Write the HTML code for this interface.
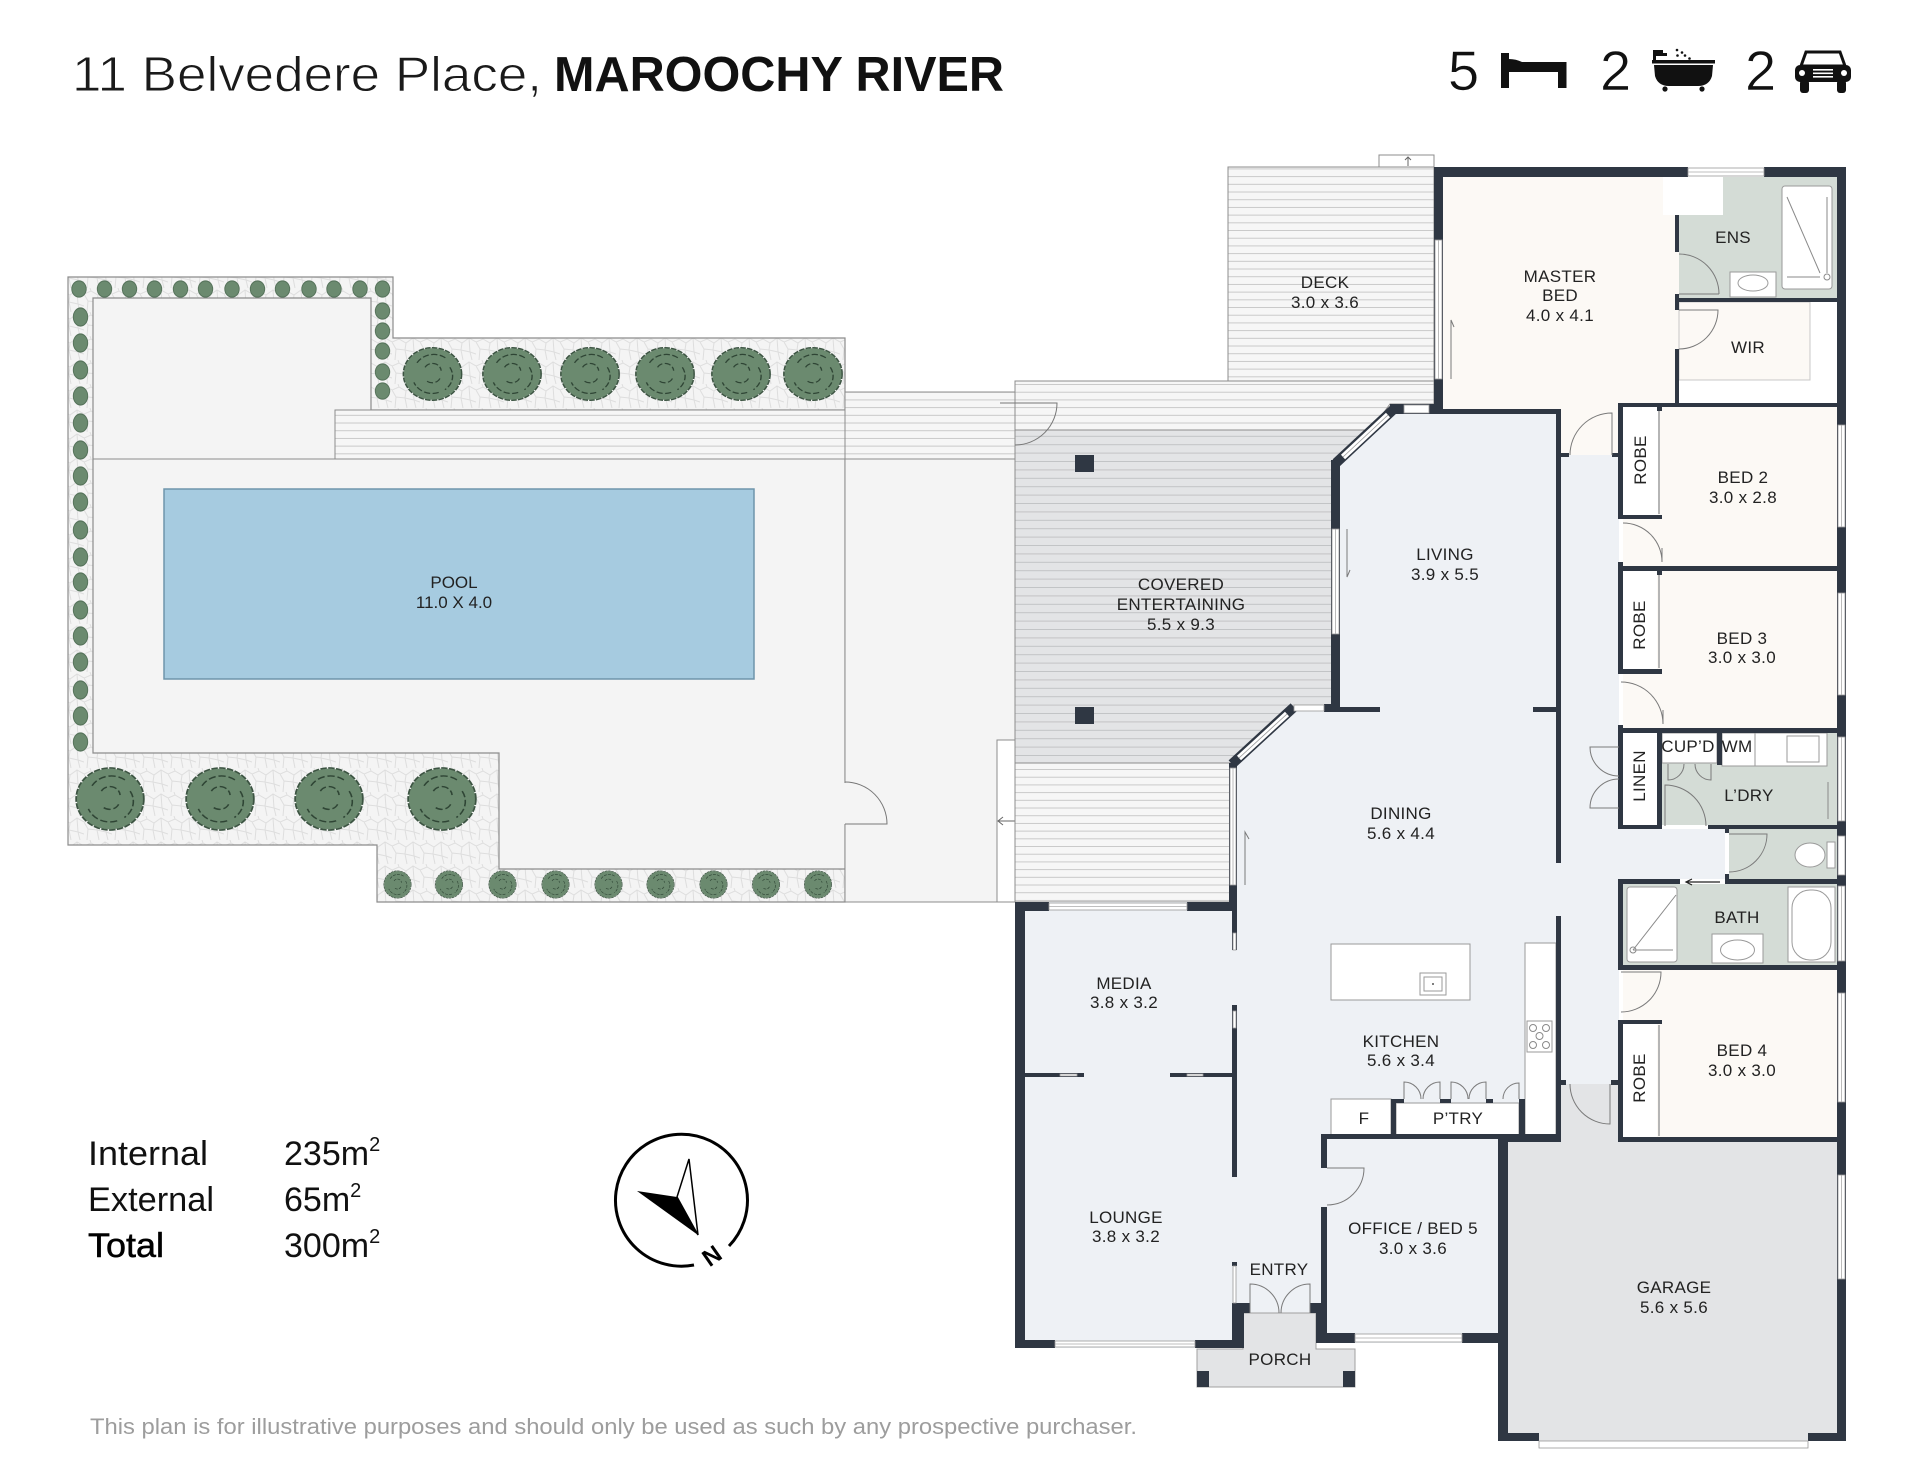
<!DOCTYPE html>
<html><head><meta charset="utf-8"><style>html,body{margin:0;padding:0;background:#fff}svg{display:block}</style></head><body>
<svg width="1920" height="1480" viewBox="0 0 1920 1480" xmlns="http://www.w3.org/2000/svg" xmlns:xlink="http://www.w3.org/1999/xlink" font-family="Liberation Sans, Arial, sans-serif">
<defs>
<pattern id="deck" width="40" height="7.7" patternUnits="userSpaceOnUse"><rect width="40" height="7.7" fill="#f6f6f6"/><line x1="0" y1="7.2" x2="40" y2="7.2" stroke="#c8c8c8" stroke-width="1"/></pattern>
<pattern id="cov" width="40" height="8.4" patternUnits="userSpaceOnUse"><rect width="40" height="8.4" fill="#e3e4e6"/><line x1="0" y1="7.9" x2="40" y2="7.9" stroke="#c2c3c5" stroke-width="1"/></pattern>
<pattern id="stone" width="28" height="24" patternUnits="userSpaceOnUse"><rect width="28" height="24" fill="#f4f4f4"/><path d="M0,6 L7,3 L14,7 L21,2 L28,6 M7,3 L6,0 M14,7 L13,14 L4,13 L0,6 M13,14 L22,16 L21,2 M22,16 L28,18 M4,13 L3,24 M13,14 L15,24 M22,16 L24,24" stroke="#dedede" stroke-width="1" fill="none"/></pattern>
<symbol id="bs" viewBox="-50 -50 100 100" preserveAspectRatio="none" overflow="visible">
<circle r="46" fill="#6b8a6f"/>
<circle r="47" fill="none" stroke="#3c5442" stroke-width="2.5" stroke-dasharray="9 2"/>
<path d="M-25,-20 A32,32 0 0 1 22,-28 M28,-12 A30,30 0 0 1 20,28 M10,33 A32,32 0 0 1 -30,15 M-12,-12 A14,14 0 0 1 14,-6 M12,8 A14,14 0 0 1 -10,12" fill="none" stroke="#2f4535" stroke-width="2.2" stroke-dasharray="10 4"/>
</symbol>
<symbol id="ss" viewBox="-50 -50 100 100" preserveAspectRatio="none"><ellipse rx="45" ry="45" fill="#6b8a6f" stroke="#56735b" stroke-width="6"/></symbol>
</defs>

<!-- HEADER -->
<text x="72" y="91" font-size="49" fill="#1a1a1a" stroke="#fff" stroke-width="0.9" textLength="470" lengthAdjust="spacingAndGlyphs">11 Belvedere Place,</text>
<text x="554" y="91" font-size="49" font-weight="bold" fill="#111" textLength="450" lengthAdjust="spacingAndGlyphs">MAROOCHY RIVER</text>
<text x="1448" y="90" font-size="56" fill="#111" stroke="#fff" stroke-width="0.6">5</text>
<text x="1600" y="90" font-size="56" fill="#111" stroke="#fff" stroke-width="0.6">2</text>
<text x="1745" y="90" font-size="56" fill="#111" stroke="#fff" stroke-width="0.6">2</text>
<!-- bed icon -->
<g fill="#111">
<rect x="1501" y="53" width="8" height="35"/>
<path d="M1509,59 Q1516,59 1522,62 L1566,62 L1566,72 L1509,72 Z"/>
<rect x="1558" y="62" width="8.5" height="26"/>
</g>
<!-- bath icon -->
<g fill="#111">
<path d="M1653,60 L1653,50 L1663,50 L1663,53 L1667,53 L1667,56 L1656,56 L1656,60 Z"/>
<rect x="1652" y="60" width="63" height="3.5"/>
<path d="M1654,65 L1713,65 L1712,76 Q1709,86 1698,86 L1669,86 Q1658,86 1655,76 Z"/>
<circle cx="1665" cy="89" r="2.6"/><circle cx="1702" cy="89" r="2.6"/>
<circle cx="1677" cy="50" r="1.3"/><circle cx="1682" cy="52.5" r="1.3"/><circle cx="1677.5" cy="55.5" r="1.3"/><circle cx="1685" cy="55.5" r="1.3"/><circle cx="1689.5" cy="58.5" r="1.3"/>
</g>
<!-- car icon -->
<g fill="#111">
<path d="M1806,52 L1840,52 L1845,66 L1801,66 Z" fill="none" stroke="#111" stroke-width="3"/>
<rect x="1795" y="65" width="56" height="17" rx="5"/>
<rect x="1800" y="80" width="9" height="13" rx="3"/>
<rect x="1837" y="80" width="9" height="13" rx="3"/>
<circle cx="1802" cy="73" r="3" fill="#fff"/><circle cx="1844" cy="73" r="3" fill="#fff"/>
<rect x="1813" y="69" width="20" height="1.6" fill="#fff"/><rect x="1813" y="72.5" width="20" height="1.6" fill="#fff"/><rect x="1813" y="76" width="20" height="1.6" fill="#fff"/>
</g>

<!-- GARDEN -->
<polygon points="68,277 393,277 393,338 845,338 845,902 377,902 377,845 68,845" fill="url(#stone)" stroke="#8c8c8c" stroke-width="1.2"/>
<polygon points="93,298 371,298 371,410 845,410 845,869 499,869 499,753 93,753" fill="#f4f4f4" stroke="#8c8c8c" stroke-width="1.2"/>
<rect x="335" y="410" width="510" height="49" fill="url(#deck)" stroke="#8c8c8c"/>
<line x1="93" y1="459" x2="335" y2="459" stroke="#8c8c8c"/>
<rect x="164" y="489" width="590" height="190" fill="#a6cbe0" stroke="#6f95ab" stroke-width="1.5"/>
<text x="454" y="588" font-size="17" text-anchor="middle" fill="#222">POOL</text>
<text x="454" y="608" font-size="17" text-anchor="middle" fill="#222">11.0 X 4.0</text>
<rect x="845" y="459" width="170" height="443" fill="#f4f4f4" stroke="#8c8c8c"/>
<rect x="845" y="392" width="170" height="67" fill="url(#deck)" stroke="#8c8c8c"/>
<rect x="997" y="740" width="18" height="162" fill="#fff" stroke="#8c8c8c"/>
<rect x="844" y="783" width="3" height="41" fill="#f4f4f4"/>
<path d="M845,824 L887,824 A42,42 0 0 0 845,782" fill="none" stroke="#777"/>
<path d="M1026,821 L998,821 M1003,817 L998,821 L1003,825" fill="none" stroke="#666"/>

<!-- shrubs -->
<g>
<use href="#bs" xlink:href="#bs" x="401.5" y="346" width="62" height="56"/>
<use href="#bs" xlink:href="#bs" x="481" y="346" width="62" height="56"/>
<use href="#bs" xlink:href="#bs" x="559" y="346" width="62" height="56"/>
<use href="#bs" xlink:href="#bs" x="634" y="346" width="62" height="56"/>
<use href="#bs" xlink:href="#bs" x="710" y="346" width="62" height="56"/>
<use href="#bs" xlink:href="#bs" x="782" y="346" width="62" height="56"/>
<use href="#bs" xlink:href="#bs" x="74" y="766" width="72" height="66"/>
<use href="#bs" xlink:href="#bs" x="184" y="766" width="72" height="66"/>
<use href="#bs" xlink:href="#bs" x="293" y="766" width="72" height="66"/>
<use href="#bs" xlink:href="#bs" x="406" y="766" width="72" height="66"/>
</g>
<g>
<use href="#bs" xlink:href="#bs" x="383" y="870" width="29" height="29"/>
<use href="#bs" xlink:href="#bs" x="434.5" y="870" width="29" height="29"/>
<use href="#bs" xlink:href="#bs" x="488" y="870" width="29" height="29"/>
<use href="#bs" xlink:href="#bs" x="541" y="870" width="29" height="29"/>
<use href="#bs" xlink:href="#bs" x="594" y="870" width="29" height="29"/>
<use href="#bs" xlink:href="#bs" x="646" y="870" width="29" height="29"/>
<use href="#bs" xlink:href="#bs" x="699" y="870" width="29" height="29"/>
<use href="#bs" xlink:href="#bs" x="751.5" y="870" width="29" height="29"/>
<use href="#bs" xlink:href="#bs" x="803.5" y="870" width="29" height="29"/>
</g>
<g>
<use href="#ss" xlink:href="#ss" x="71" y="280" width="16" height="18"/>
<use href="#ss" xlink:href="#ss" x="96.5" y="280" width="16" height="18"/>
<use href="#ss" xlink:href="#ss" x="121.5" y="280" width="16" height="18"/>
<use href="#ss" xlink:href="#ss" x="146.5" y="280" width="16" height="18"/>
<use href="#ss" xlink:href="#ss" x="172.5" y="280" width="16" height="18"/>
<use href="#ss" xlink:href="#ss" x="197.5" y="280" width="16" height="18"/>
<use href="#ss" xlink:href="#ss" x="224" y="280" width="16" height="18"/>
<use href="#ss" xlink:href="#ss" x="249.5" y="280" width="16" height="18"/>
<use href="#ss" xlink:href="#ss" x="274.5" y="280" width="16" height="18"/>
<use href="#ss" xlink:href="#ss" x="301" y="280" width="16" height="18"/>
<use href="#ss" xlink:href="#ss" x="326" y="280" width="16" height="18"/>
<use href="#ss" xlink:href="#ss" x="352" y="280" width="16" height="18"/>
<use href="#ss" xlink:href="#ss" x="374.5" y="280" width="16" height="18"/>
<use href="#ss" xlink:href="#ss" x="374.5" y="302" width="16" height="18"/>
<use href="#ss" xlink:href="#ss" x="374.5" y="322" width="16" height="18"/>
<use href="#ss" xlink:href="#ss" x="374.5" y="342" width="16" height="18"/>
<use href="#ss" xlink:href="#ss" x="374.5" y="363" width="16" height="18"/>
<use href="#ss" xlink:href="#ss" x="374.5" y="382" width="16" height="18"/>
<use href="#ss" xlink:href="#ss" x="72.5" y="307" width="16" height="20"/>
<use href="#ss" xlink:href="#ss" x="72.5" y="333" width="16" height="20"/>
<use href="#ss" xlink:href="#ss" x="72.5" y="360" width="16" height="20"/>
<use href="#ss" xlink:href="#ss" x="72.5" y="386" width="16" height="20"/>
<use href="#ss" xlink:href="#ss" x="72.5" y="413" width="16" height="20"/>
<use href="#ss" xlink:href="#ss" x="72.5" y="440" width="16" height="20"/>
<use href="#ss" xlink:href="#ss" x="72.5" y="466" width="16" height="20"/>
<use href="#ss" xlink:href="#ss" x="72.5" y="492" width="16" height="20"/>
<use href="#ss" xlink:href="#ss" x="72.5" y="520" width="16" height="20"/>
<use href="#ss" xlink:href="#ss" x="72.5" y="547" width="16" height="20"/>
<use href="#ss" xlink:href="#ss" x="72.5" y="572" width="16" height="20"/>
<use href="#ss" xlink:href="#ss" x="72.5" y="600" width="16" height="20"/>
<use href="#ss" xlink:href="#ss" x="72.5" y="626" width="16" height="20"/>
<use href="#ss" xlink:href="#ss" x="72.5" y="652" width="16" height="20"/>
<use href="#ss" xlink:href="#ss" x="72.5" y="680" width="16" height="20"/>
<use href="#ss" xlink:href="#ss" x="72.5" y="706" width="16" height="20"/>
<use href="#ss" xlink:href="#ss" x="72.5" y="732" width="16" height="20"/>
</g>

<!-- DECKS -->
<rect x="1228" y="167" width="206" height="214" fill="url(#deck)" stroke="#8c8c8c"/>
<rect x="1379" y="155" width="55" height="12" fill="#fff" stroke="#8c8c8c"/>
<path d="M1408,166 L1408,157 M1405,160 L1408,157 L1411,160" fill="none" stroke="#666"/>
<polygon points="1015,381 1434,381 1434,404 1390,404 1371,430 1015,430" fill="url(#deck)" stroke="#8c8c8c"/>
<polygon points="1015,430 1371,430 1337,462 1337,708 1293,708 1232,763 1015,763" fill="url(#cov)" stroke="#8c8c8c"/>
<rect x="1015" y="763" width="217" height="139" fill="url(#deck)" stroke="#8c8c8c"/>
<path d="M1000,403 L1057,403 A42,42 0 0 1 1015,445" fill="none" stroke="#777"/>
<rect x="1075" y="455" width="19" height="17" fill="#2f3743"/>
<rect x="1075" y="707" width="19" height="17" fill="#2f3743"/>

<!-- INTERIOR FILLS -->
<polygon points="1337,462 1394,410 1561,410 1561,455 1619,455 1619,1084 1556,1084 1556,1138 1502,1138 1502,1343 1316,1343 1316,1313 1237,1313 1237,1348 1015,1348 1015,902 1232,902 1232,763 1293,708 1337,708" fill="#eef1f5"/>
<rect x="1619" y="829" width="106" height="50" fill="#eef1f5"/>
<rect x="1502" y="1138" width="344" height="303" fill="#e3e4e6"/>
<rect x="1556" y="1084" width="63" height="56" fill="#e3e4e6"/>
<polygon points="1243,1313 1316,1313 1316,1349 1355,1349 1355,1387 1197,1387 1197,1349 1243,1349" fill="#e3e4e6" stroke="#a0a0a0"/>
<polygon points="1443,177 1679,177 1679,403 1618,403 1618,455 1561,455 1561,410 1443,410" fill="#fcf9f5"/>
<rect x="1679" y="302" width="158" height="101" fill="#fff"/>
<rect x="1679" y="302" width="131" height="78" fill="#fcf9f5" stroke="#c8c8c8"/>
<rect x="1623" y="407" width="214" height="159" fill="#fcf9f5"/>
<rect x="1623" y="571" width="214" height="157" fill="#fcf9f5"/>
<rect x="1623" y="970" width="214" height="167" fill="#fcf9f5"/>
<rect x="1623" y="407" width="35" height="108" fill="#fff"/>
<rect x="1623" y="571" width="34" height="98" fill="#fff"/>
<rect x="1623" y="1024" width="34" height="113" fill="#fff"/>
<rect x="1623" y="733" width="34" height="92" fill="#fff"/>
<!-- wet rooms -->
<rect x="1679" y="177" width="158" height="121" fill="#d4dcd6"/>
<rect x="1663" y="177" width="60" height="38" fill="#fff"/>
<rect x="1662" y="733" width="175" height="92" fill="#d4dcd6"/>
<rect x="1729" y="829" width="108" height="50" fill="#d4dcd6"/>
<rect x="1623" y="884" width="214" height="81" fill="#d4dcd6"/>

<!-- FIXTURES -->
<g fill="#fff" stroke="#9a9a9a" stroke-width="1">
<rect x="1782" y="186" width="50" height="103" rx="3"/>
<rect x="1730" y="272" width="46" height="25"/>
<ellipse cx="1753" cy="283" rx="15" ry="8"/>
<rect x="1662" y="733" width="55" height="30"/>
<rect x="1722" y="733" width="33" height="33"/>
<rect x="1755" y="733" width="72" height="33"/>
<rect x="1787" y="736" width="32" height="26"/>
<rect x="1827" y="842" width="8" height="26"/>
<ellipse cx="1810" cy="855" rx="15" ry="12"/>
<rect x="1627" y="887" width="50" height="75" rx="3"/>
<rect x="1712" y="934" width="51" height="29"/>
<ellipse cx="1737.5" cy="950" rx="17" ry="10"/>
<rect x="1788" y="887" width="47" height="75"/>
<rect x="1792" y="890" width="39" height="70" rx="18"/>
<rect x="1331" y="944" width="139" height="56"/>
<rect x="1420" y="973" width="26" height="22"/>
<rect x="1424" y="977" width="18" height="14"/>
<rect x="1525" y="943" width="31" height="192"/>
<rect x="1527" y="1021" width="25" height="31"/>
<rect x="1331" y="1099" width="60" height="36"/>
<rect x="1396" y="1103" width="123" height="32"/>
</g>
<g fill="none" stroke="#8a8a8a" stroke-width="1">
<path d="M1787,197 L1820,273 M1827,197 L1827,273 M1787,277 L1820,277"/>
<circle cx="1827" cy="277" r="3"/>
<path d="M1676,895 L1633,950 M1633,950 L1673,950"/>
<circle cx="1633" cy="950" r="3"/>
<circle cx="1533" cy="1028" r="3.5"/><circle cx="1546" cy="1028" r="3.5"/><circle cx="1539.5" cy="1036" r="3.5"/><circle cx="1533" cy="1045" r="3.5"/><circle cx="1546" cy="1045" r="3.5"/>
<path d="M1828,782 L1828,819"/>
</g>
<circle cx="1433" cy="984" r="1" fill="#555"/>

<!-- WALLS -->
<g fill="#2f3743">
<rect x="1434" y="167" width="254" height="10"/>
<rect x="1764" y="167" width="82" height="10"/>
<rect x="1837" y="167" width="9" height="1274"/>
<rect x="1434" y="167" width="9" height="247"/>
<rect x="1390" y="404" width="44" height="10"/>
<rect x="1434" y="409" width="127" height="5"/>
<rect x="1556" y="409" width="5" height="454"/>
<rect x="1556" y="916" width="5" height="226"/>
<rect x="1533" y="707" width="23" height="5"/>
<rect x="1561" y="453" width="8" height="4"/>
<rect x="1612" y="453" width="6" height="4"/>
<rect x="1618" y="403" width="5" height="116"/>
<rect x="1618" y="403" width="228" height="4"/>
<rect x="1675" y="215" width="4" height="37"/>
<rect x="1675" y="294" width="4" height="16"/>
<rect x="1675" y="349" width="4" height="58"/>
<rect x="1675" y="298" width="171" height="4"/>
<rect x="1618" y="515" width="44" height="4"/>
<rect x="1657" y="407" width="5" height="4"/>
<rect x="1618" y="562" width="5" height="112"/>
<rect x="1618" y="566" width="228" height="5"/>
<rect x="1618" y="669" width="44" height="5"/>
<rect x="1657" y="571" width="5" height="4"/>
<rect x="1618" y="725" width="5" height="104"/>
<rect x="1618" y="728" width="228" height="5"/>
<rect x="1657" y="733" width="5" height="96"/>
<rect x="1717" y="733" width="5" height="32"/>
<rect x="1618" y="825" width="44" height="4"/>
<rect x="1708" y="825" width="138" height="4"/>
<rect x="1725" y="825" width="4" height="8"/>
<rect x="1725" y="874" width="4" height="10"/>
<rect x="1618" y="879" width="62" height="5"/>
<rect x="1725" y="879" width="121" height="5"/>
<rect x="1618" y="879" width="5" height="91"/>
<rect x="1618" y="965" width="228" height="5"/>
<rect x="1618" y="1020" width="44" height="4"/>
<rect x="1618" y="1020" width="5" height="122"/>
<rect x="1618" y="1137" width="228" height="5"/>
<rect x="1556" y="1080" width="10" height="5"/>
<rect x="1611" y="1080" width="12" height="5"/>
<rect x="1321" y="1134" width="237" height="5"/>
<rect x="1498" y="1137" width="60" height="5"/>
<rect x="1498" y="1137" width="10" height="304"/>
<rect x="1498" y="1433" width="41" height="8"/>
<rect x="1808" y="1433" width="38" height="8"/>
<rect x="1321" y="1134" width="6" height="34"/>
<rect x="1321" y="1207" width="6" height="136"/>
<rect x="1316" y="1333" width="39" height="10"/>
<rect x="1462" y="1333" width="40" height="10"/>
<rect x="1232" y="1262" width="5" height="4"/>
<rect x="1232" y="1303" width="12" height="45"/>
<rect x="1244" y="1303" width="6" height="10"/>
<rect x="1310" y="1303" width="12" height="10"/>
<rect x="1316" y="1313" width="6" height="30"/>
<rect x="1197" y="1371" width="12" height="16"/>
<rect x="1343" y="1371" width="12" height="16"/>
<rect x="1015" y="1340" width="40" height="8"/>
<rect x="1195" y="1340" width="49" height="8"/>
<rect x="1015" y="902" width="10" height="446"/>
<rect x="1015" y="902" width="34" height="9"/>
<rect x="1187" y="902" width="50" height="9"/>
<rect x="1232" y="902" width="5" height="48"/>
<rect x="1232" y="1005" width="5" height="172"/>
<rect x="1025" y="1073" width="59" height="4"/>
<rect x="1170" y="1073" width="62" height="4"/>
<rect x="1229" y="763" width="8" height="147"/>
<rect x="1331" y="460" width="9" height="252"/>
<rect x="1331" y="707" width="49" height="5"/>
<rect x="1324" y="704" width="16" height="8"/>
<rect x="1391" y="1099" width="5" height="36"/>
<rect x="1519" y="1099" width="6" height="36"/>
<rect x="1391" y="1099" width="13" height="4"/>
<rect x="1440" y="1099" width="11" height="4"/>
<rect x="1486" y="1099" width="7" height="4"/>
</g>
<!-- diagonal walls -->
<g stroke-linecap="butt">
<line x1="1336" y1="463" x2="1395" y2="408" stroke="#2f3743" stroke-width="10"/>
<line x1="1343" y1="457" x2="1388" y2="415" stroke="#fff" stroke-width="6"/>
<line x1="1343" y1="457" x2="1388" y2="415" stroke="#999" stroke-width="0.8"/>
<line x1="1232" y1="764" x2="1294" y2="707" stroke="#2f3743" stroke-width="10"/>
<line x1="1239" y1="758" x2="1287" y2="714" stroke="#fff" stroke-width="6"/>
<line x1="1239" y1="758" x2="1287" y2="714" stroke="#999" stroke-width="0.8"/>
</g>
<!-- windows -->
<g fill="#fff" stroke="#9a9a9a" stroke-width="0.8">
<rect x="1688" y="168" width="76" height="8"/>
<rect x="1838" y="425" width="7" height="102"/>
<rect x="1838" y="593" width="7" height="102"/>
<rect x="1838" y="737" width="7" height="84"/>
<rect x="1838" y="836" width="7" height="39"/>
<rect x="1838" y="886" width="7" height="75"/>
<rect x="1838" y="993" width="7" height="109"/>
<rect x="1838" y="1175" width="7" height="104"/>
<rect x="1435" y="240" width="7" height="139"/>
<rect x="1404" y="405" width="25" height="8"/>
<rect x="1294" y="705" width="30" height="6"/>
<rect x="1332" y="529" width="7" height="105"/>
<rect x="1230" y="768" width="6" height="117"/>
<rect x="1049" y="903" width="138" height="7"/>
<rect x="1233" y="933" width="3" height="17"/>
<rect x="1233" y="1011" width="3" height="17"/>
<rect x="1060" y="1074" width="17" height="2"/>
<rect x="1187" y="1074" width="16" height="2"/>
<rect x="1233" y="1266" width="3" height="37"/>
<rect x="1055" y="1341" width="140" height="6"/>
<rect x="1355" y="1334" width="107" height="8"/>
<rect x="1539" y="1441" width="269" height="7"/>
</g>
<g stroke="#aaa" stroke-width="0.8">
<line x1="1688" y1="172" x2="1764" y2="172"/>
<line x1="1841.5" y1="425" x2="1841.5" y2="527"/>
<line x1="1841.5" y1="593" x2="1841.5" y2="695"/>
<line x1="1841.5" y1="737" x2="1841.5" y2="821"/>
<line x1="1841.5" y1="886" x2="1841.5" y2="961"/>
<line x1="1841.5" y1="993" x2="1841.5" y2="1102"/>
<line x1="1841.5" y1="1175" x2="1841.5" y2="1279"/>
<line x1="1438.5" y1="240" x2="1438.5" y2="379"/>
<line x1="1335.5" y1="529" x2="1335.5" y2="634"/>
<line x1="1233" y1="768" x2="1233" y2="885"/>
<line x1="1049" y1="906.5" x2="1187" y2="906.5"/>
<line x1="1055" y1="1344" x2="1195" y2="1344"/>
<line x1="1355" y1="1338" x2="1462" y2="1338"/>
</g>
<!-- robe sliding doors -->
<g stroke="#b5b5b5" stroke-width="2">
<line x1="1659" y1="411" x2="1659" y2="514"/>
<line x1="1659" y1="575" x2="1659" y2="668"/>
<line x1="1659" y1="1025" x2="1659" y2="1136"/>
</g>

<!-- DOORS -->
<g fill="none" stroke="#7a7a7a" stroke-width="1">
<path d="M1612,455 L1612,413 A42,42 0 0 0 1570,455"/>
<path d="M1679,294 L1719,294 M1679,254 A40,40 0 0 1 1719,294"/>
<path d="M1679,310 L1718,310 A39,39 0 0 1 1679,349"/>
<path d="M1623,523 A39,39 0 0 1 1662,562 M1662,562 L1662,548"/>
<path d="M1621,682 A42,42 0 0 1 1663,724 M1663,724 L1663,710"/>
<path d="M1621,972 L1661,972 A40,40 0 0 1 1621,1012"/>
<path d="M1619,747 L1590,747 A29,29 0 0 0 1619,776"/>
<path d="M1619,808 L1590,808 A29,29 0 0 1 1619,779"/>
<path d="M1665,826 L1665,785 A41,41 0 0 1 1706,826"/>
<path d="M1729,834 L1767,834 A38,38 0 0 1 1729,872"/>
<path d="M1668,764 L1668,780 A16,16 0 0 0 1684,764 M1711,764 L1711,780 A16,16 0 0 1 1695,764"/>
<path d="M1610,1084 L1610,1124 A40,40 0 0 1 1570,1084"/>
<path d="M1327,1168 L1364,1168 A37,37 0 0 1 1327,1205"/>
<path d="M1250,1313 L1250,1284 A29,29 0 0 1 1279,1313 M1310,1313 L1310,1284 A29,29 0 0 0 1281,1313"/>
<path d="M1404,1099 L1404,1082 A17,17 0 0 1 1421,1099 M1440,1099 L1440,1082 A17,17 0 0 0 1423,1099"/>
<path d="M1451,1099 L1451,1082 A17,17 0 0 1 1468,1099 M1486,1099 L1486,1082 A17,17 0 0 0 1469,1099"/>
<path d="M1519,1099 L1519,1083 A16,16 0 0 0 1503,1099"/>
<path d="M1451,379 L1451,320 L1454,327"/>
<path d="M1347,529 L1347,577 L1350,570"/>
<path d="M1245,885 L1245,832 L1249,839"/>
</g>
<path d="M1720,882 L1687,882 M1692,879 L1686,882 L1692,885" fill="none" stroke="#222" stroke-width="1.2"/>

<!-- LABELS -->
<g font-size="17" fill="#222" text-anchor="middle" letter-spacing="0.3">
<text x="1325" y="288">DECK</text>
<text x="1325" y="308">3.0 x 3.6</text>
<text x="1560" y="282">MASTER</text>
<text x="1560" y="301">BED</text>
<text x="1560" y="321">4.0 x 4.1</text>
<text x="1733" y="243">ENS</text>
<text x="1748" y="353">WIR</text>
<text x="1181" y="590">COVERED</text>
<text x="1181" y="610">ENTERTAINING</text>
<text x="1181" y="630">5.5 x 9.3</text>
<text x="1445" y="560">LIVING</text>
<text x="1445" y="580">3.9 x 5.5</text>
<text x="1743" y="483">BED 2</text>
<text x="1743" y="503">3.0 x 2.8</text>
<text x="1742" y="644">BED 3</text>
<text x="1742" y="663">3.0 x 3.0</text>
<text x="1688" y="752">CUP’D</text>
<text x="1737" y="752">WM</text>
<text x="1749" y="801">L’DRY</text>
<text x="1737" y="923">BATH</text>
<text x="1742" y="1056">BED 4</text>
<text x="1742" y="1076">3.0 x 3.0</text>
<text x="1401" y="819">DINING</text>
<text x="1401" y="839">5.6 x 4.4</text>
<text x="1124" y="989">MEDIA</text>
<text x="1124" y="1008">3.8 x 3.2</text>
<text x="1401" y="1047">KITCHEN</text>
<text x="1401" y="1066">5.6 x 3.4</text>
<text x="1364" y="1124">F</text>
<text x="1458" y="1124">P’TRY</text>
<text x="1126" y="1223">LOUNGE</text>
<text x="1126" y="1242">3.8 x 3.2</text>
<text x="1279" y="1275">ENTRY</text>
<text x="1280" y="1365">PORCH</text>
<text x="1413" y="1234">OFFICE / BED 5</text>
<text x="1413" y="1254">3.0 x 3.6</text>
<text x="1674" y="1293">GARAGE</text>
<text x="1674" y="1313">5.6 x 5.6</text>
<text transform="translate(1646,460) rotate(-90)">ROBE</text>
<text transform="translate(1645,625) rotate(-90)">ROBE</text>
<text transform="translate(1645,776) rotate(-90)">LINEN</text>
<text transform="translate(1645,1078) rotate(-90)">ROBE</text>
</g>

<!-- AREAS -->
<g font-size="34" fill="#111">
<text x="88" y="1165" textLength="120" lengthAdjust="spacingAndGlyphs">Internal</text>
<text x="88" y="1211" textLength="126" lengthAdjust="spacingAndGlyphs">External</text>
<text x="88" y="1257" textLength="76" lengthAdjust="spacingAndGlyphs" fill="#000" stroke="#000" stroke-width="0.5">Total</text>
<text x="284" y="1165">235m<tspan font-size="20" dy="-14">2</tspan></text>
<text x="284" y="1211">65m<tspan font-size="20" dy="-14">2</tspan></text>
<text x="284" y="1257">300m<tspan font-size="20" dy="-14">2</tspan></text>
</g>

<!-- COMPASS -->
<path d="M729,1246 A66,66 0 1 0 694,1265" fill="none" stroke="#000" stroke-width="3"/>
<polygon points="689,1159 677,1197 698,1235" fill="#fff" stroke="#000" stroke-width="1.5" stroke-linejoin="miter"/>
<polygon points="637,1191 677,1197 698,1235" fill="#000"/>
<text x="712" y="1264" font-size="24" font-weight="bold" text-anchor="middle" transform="rotate(-35 712 1256)">N</text>

<!-- FOOTER -->
<text x="90" y="1434" font-size="22" fill="#9d9d9d" textLength="1047" lengthAdjust="spacingAndGlyphs">This plan is for illustrative purposes and should only be used as such by any prospective purchaser.</text>
</svg>
</body></html>
